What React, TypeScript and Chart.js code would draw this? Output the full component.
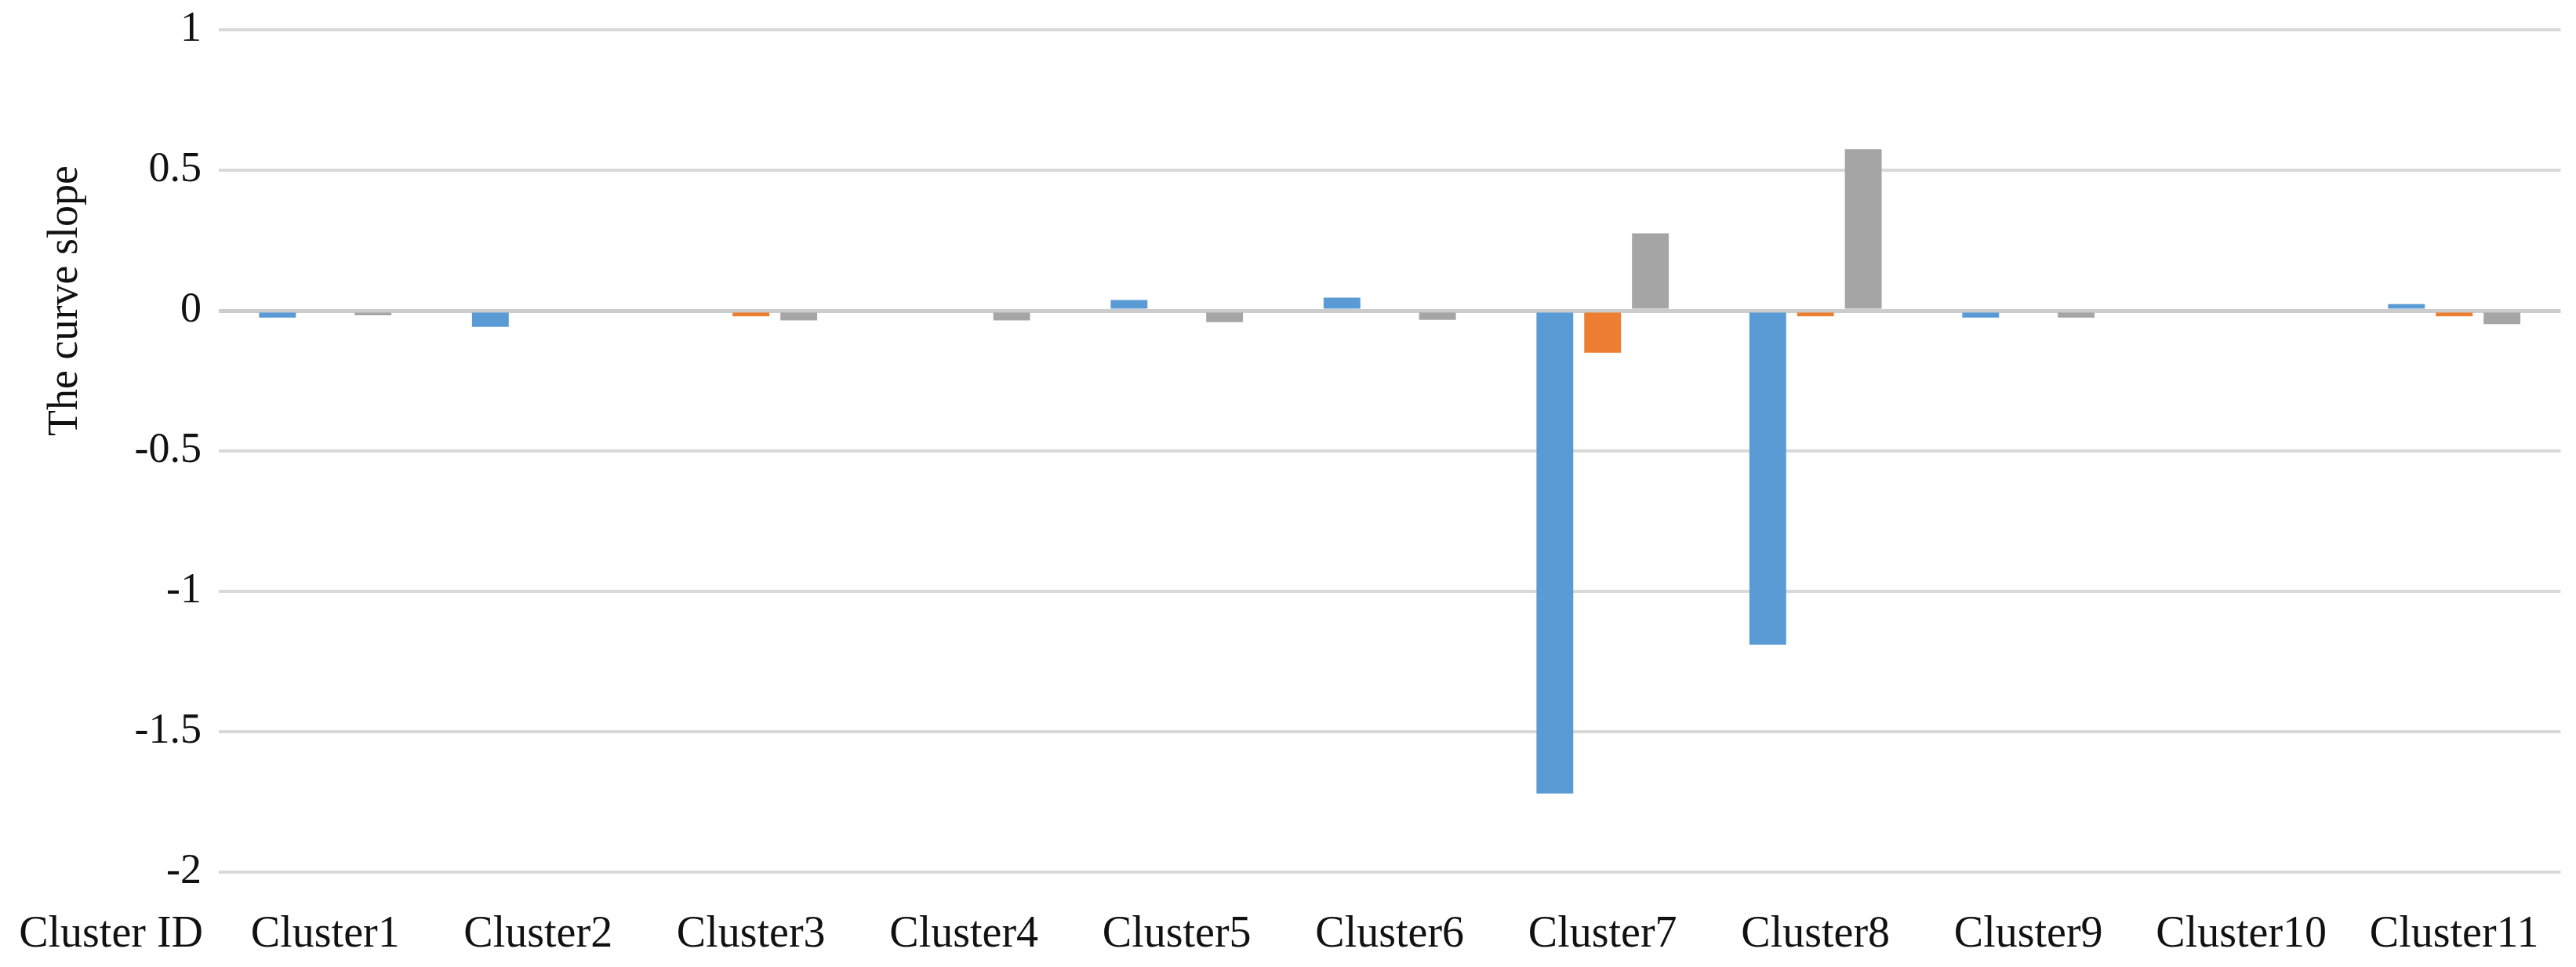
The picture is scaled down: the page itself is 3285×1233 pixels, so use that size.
import React, { useEffect, useRef } from "react";
import { Chart, registerables } from "chart.js";

Chart.register(...registerables);

const categories = ["Cluster1", "Cluster2", "Cluster3", "Cluster4", "Cluster5", "Cluster6", "Cluster7", "Cluster8", "Cluster9", "Cluster10", "Cluster11"];
const seriesBlue = [-0.025, -0.058, 0, 0, 0.038, 0.046, -1.72, -1.19, -0.025, 0, 0.023];
const seriesOrange = [0, 0, -0.02, 0, 0, 0, -0.15, -0.02, 0, 0, -0.02];
const seriesGray = [-0.017, 0, -0.035, -0.035, -0.041, -0.033, 0.275, 0.575, -0.025, 0, -0.048];
const yTicks = [1, 0.5, 0, -0.5, -1, -1.5, -2];
const xAxisName = "Cluster ID";
const yAxisName = "The curve slope";

const FONT = "'Liberation Serif', 'Times New Roman', serif";
const CAT_SIZE = 56;
const X_PAD = 47;

export default function App() {
  const ref = useRef<HTMLCanvasElement | null>(null);
  useEffect(() => {
    if (!ref.current) return;
    const axisNamesPlugin = {
      id: "axisNames",
      afterDraw(chart: any) {
        const { ctx } = chart;
        const xs = chart.scales.x;
        const ys = chart.scales.y;
        ctx.save();
        ctx.font = `${CAT_SIZE}px ${FONT}`;
        ctx.fillStyle = "#111111";
        ctx.textAlign = "right";
        ctx.textBaseline = "middle";
        ctx.fillText(xAxisName, ys.right - 20, xs.top + X_PAD + (CAT_SIZE * 1.2) / 2);
        ctx.restore();
        // y-axis name, centred a little above the zero line as in the original
        ctx.save();
        ctx.font = `54px ${FONT}`;
        ctx.fillStyle = "#111111";
        ctx.textAlign = "center";
        ctx.textBaseline = "middle";
        const cy = ys.getPixelForValue(0.035);
        ctx.translate(ys.left + 84, cy);
        ctx.rotate(-Math.PI / 2);
        ctx.fillText(yAxisName, 0, 0);
        ctx.restore();
      },
    };
    const chart = new Chart(ref.current, {
      type: "bar",
      data: {
        labels: categories,
        datasets: [
          { label: "Series1", data: seriesBlue, backgroundColor: "#5B9BD5" },
          { label: "Series2", data: seriesOrange, backgroundColor: "#ED7D31" },
          { label: "Series3", data: seriesGray, backgroundColor: "#A5A5A5" },
        ],
      },
      options: {
        responsive: true,
        maintainAspectRatio: false,
        animation: false,
        layout: { padding: { left: 0, right: 10, top: 38, bottom: 0 } },
        datasets: { bar: { categoryPercentage: 0.673, barPercentage: 0.77 } },
        plugins: { legend: { display: false }, tooltip: { enabled: false } },
        scales: {
          x: {
            grid: { display: false, drawTicks: false },
            border: { display: false },
            afterFit(scale: any) {
              scale.height = 121;
            },
            ticks: {
              font: { family: FONT, size: CAT_SIZE },
              color: "#111111",
              padding: X_PAD,
              maxRotation: 0,
              autoSkip: false,
            },
          },
          y: {
            min: -2,
            max: 1,
            afterBuildTicks(scale: any) {
              scale.ticks = yTicks.map((v) => ({ value: v }));
            },
            afterFit(scale: any) {
              scale.width = 279;
              scale.paddingTop = 0;
              scale.paddingBottom = 0;
            },
            grid: {
              drawTicks: false,
              color: (c: any) => (c.tick && c.tick.value === 0 ? "#cccccc" : "#d9d9d9"),
              lineWidth: (c: any) => (c.tick && c.tick.value === 0 ? 5 : 4),
            },
            border: { display: false },
            ticks: {
              font: { family: FONT, size: 54 },
              color: "#111111",
              padding: 22,
              callback: (v: any) => String(v),
            },
            title: { display: false, text: yAxisName },
          },
        },
      },
      plugins: [axisNamesPlugin],
    });
    return () => chart.destroy();
  }, []);
  return (
    <div style={{ position: "fixed", left: 0, top: 0, width: 3285, height: 1233, background: "#ffffff" }}>
      <canvas ref={ref} />
    </div>
  );
}
